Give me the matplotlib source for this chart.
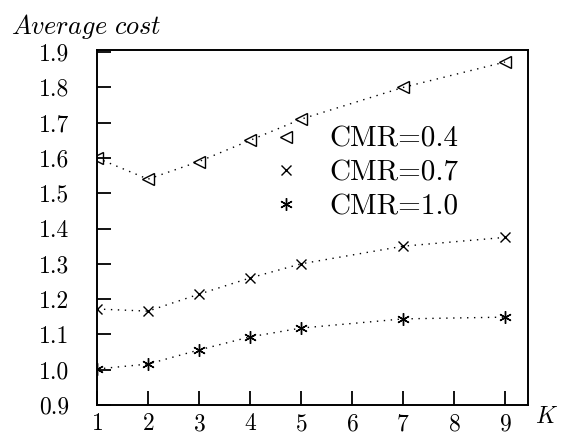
import matplotlib
matplotlib.use("Agg")
import matplotlib.pyplot as plt
from matplotlib.lines import Line2D

plt.rcParams['font.family'] = 'serif'
plt.rcParams['font.serif'] = ['cmr10', 'DejaVu Serif']
plt.rcParams['mathtext.fontset'] = 'cm'
plt.rcParams['axes.formatter.use_mathtext'] = True

# data
K = [1, 2, 3, 4, 5, 7, 9]
cmr04 = [1.60, 1.54, 1.59, 1.65, 1.71, 1.80, 1.872]
cmr07 = [1.172, 1.166, 1.214, 1.26, 1.30, 1.35, 1.375]
cmr10 = [1.002, 1.016, 1.056, 1.093, 1.118, 1.144, 1.149]
labels = ['CMR=0.4', 'CMR=0.7', 'CMR=1.0']
yticks = [0.9, 1.0, 1.1, 1.2, 1.3, 1.4, 1.5, 1.6, 1.7, 1.8, 1.9]
xticks = [1, 2, 3, 4, 5, 6, 7, 8, 9]

fig = plt.figure(figsize=(5.62, 4.33), dpi=100)
ax = fig.add_axes([0.1726, 0.0647, 0.767, 0.8198])

dots = (0, (1, 4))
ax.plot(K, cmr04, color='black', ls=dots, lw=1, marker='<', ms=8, mfc='none', mew=1)
ax.plot(K, cmr07, color='black', ls=dots, lw=1, marker='x', ms=7, mew=1)
ax.plot(K, cmr10, color='black', ls=dots, lw=1, marker=(6, 2, 0), ms=9, mew=1)

ax.set_xlim(1, 9.45)
ax.set_ylim(0.9, 1.906)
ax.set_xticks(xticks)
ax.set_yticks(yticks)
ax.set_yticklabels(['%.1f' % v for v in yticks])
ax.tick_params(direction='in', length=10, width=1.3, labelsize=17)
ax.tick_params(axis='y', pad=20)
ax.tick_params(axis='x', pad=6)
for s in ax.spines.values():
    s.set_linewidth(1.4)

fig.text(0.02, 0.972, r'$Average\ cost$', fontsize=19, va='top', ha='left')
fig.text(0.952, 0.012, r'$K$', fontsize=17, va='bottom', ha='left')

handles = [Line2D([], [], color='black', ls='none', marker='<', ms=8, mfc='none'),
           Line2D([], [], color='black', ls='none', marker='x', ms=7),
           Line2D([], [], color='black', ls='none', marker=(6, 2, 0), ms=9)]
ax.legend(handles, labels, loc='upper left', bbox_to_anchor=(0.37, 0.826),
          frameon=False, fontsize=21, handlelength=1.0, handletextpad=1.0,
          labelspacing=0.25, borderpad=0)

fig.savefig('out.png', dpi=100)
